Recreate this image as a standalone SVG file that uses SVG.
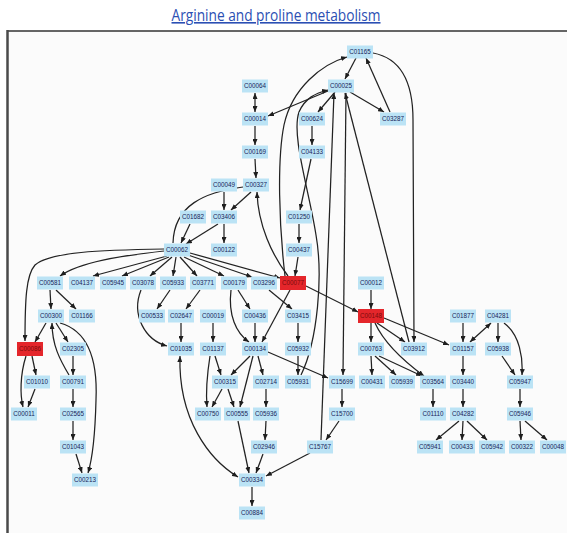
<svg xmlns="http://www.w3.org/2000/svg" width="567" height="533" viewBox="0 0 567 533">
  <style>
    .title { font-family: "Open Sans", "Liberation Sans", sans-serif; font-size: 16px; fill: #2b4fb3; text-decoration: underline; }
    .n rect { fill: #bbe3f5; }
    .r rect { fill: #e4262b; }
    .n text, .r text { font-family: "Liberation Sans", Arial, sans-serif; font-size: 6.3px; text-anchor: middle; }
    .n text { fill: #18255a; }
    .r text { fill: #7a0c0c; }
    #edges path { fill: none; stroke: #222; stroke-width: 1.25; marker-end: url(#ah); }
    #edges path.both { marker-start: url(#ah); }
    #edges path.plain { marker-end: none; }
  </style>
  <defs>
    <marker id="ah" viewBox="0 0 6 5" refX="6" refY="2.5" markerWidth="6" markerHeight="5" markerUnits="userSpaceOnUse" orient="auto-start-reverse">
      <path d="M0,0 L6,2.5 L0,5 z" fill="#1e1e1e"/>
    </marker>
  </defs>

  <rect width="567" height="533" fill="#ffffff"/>
  <text class="title" x="276" y="21" text-anchor="middle" textLength="209" lengthAdjust="spacingAndGlyphs">Arginine and proline metabolism</text>

  <!-- panel frame -->
  <rect x="7" y="31" width="560" height="502" fill="#fbfbfb"/>
  <line x1="7" y1="31" x2="567" y2="31" stroke="#333" stroke-width="1.5"/>
  <line x1="7.5" y1="30" x2="7.5" y2="533" stroke="#4a4a4a" stroke-width="2.5"/>

  <g id="edges">
    <!-- top: glutamate / ornithine cycle -->
    <path d="M356,58 L345,79"/>
    <path d="M390,112 L366,58"/>
    <path d="M350,92 L384,112"/>
    <path d="M335,92 L318,112"/>
    <path d="M328,91 L268,116"/>
    <path class="both" d="M255,93 L255,112"/>
    <path d="M255,126 L255,145"/>
    <path d="M255,159 L256,178"/>
    <path d="M312,126 L312,145"/>
    <path d="M311,159 L300,210"/>
    <path d="M299,224 L299,243"/>
    <path d="M298,257 L295,276"/>
    <path d="M224,192 L224,210"/>
    <path d="M251,192 L231,210"/>
    <path d="M224,224 L224,243"/>
    <path d="M218,224 L186,244"/>
    <path d="M190,224 L181,243"/>
    <path class="plain" d="M243,187 C205,192 174,205 173,243"/>
    <path d="M288,276 C272,255 258,225 257,192"/>
    <path d="M285,276 C279,225 277,160 284,125 C292,88 322,64 347,57"/>
    <path d="M301,375 C318,340 323,275 316,235 C309,190 291,135 299,112 C305,98 316,93 328,90"/>
    <path d="M321,440 L334,93"/>
    <path d="M346,93 L343,375"/>
    <path d="M409,342 L345,93"/>
    <path d="M373,53 C400,58 413,80 413,120 L414,342"/>

    <!-- arginine fan-out -->
    <path d="M164,251 C120,256 80,262 60,276"/>
    <path d="M164,249 C100,250 50,252 35,265 C26,275 25,300 25,341"/>
    <path d="M167,256 L93,276"/>
    <path d="M169,257 L122,276"/>
    <path d="M172,257 L150,276"/>
    <path d="M176,257 L173,276"/>
    <path d="M180,257 L197,276"/>
    <path d="M184,257 L224,276"/>
    <path d="M188,255 L252,277"/>
    <path d="M190,253 L280,278"/>

    <path d="M50,290 L51,309"/>
    <path d="M56,290 L76,309"/>
    <path d="M170,290 L157,309"/>
    <path d="M200,290 L186,309"/>
    <path d="M141,290 C131,315 145,340 167,346"/>
    <path d="M238,290 L250,309"/>
    <path d="M231,290 C228,315 236,333 249,342"/>
    <path d="M290,290 L262,342"/>
    <path d="M269,290 L292,309"/>
    <path d="M371,290 L371,309"/>
    <path d="M306,286 L358,312"/>

    <!-- creatine branch -->
    <path d="M46,323 L35,342"/>
    <path d="M56,323 L68,342"/>
    <path d="M69,375 C60,360 52,345 52,323"/>
    <path d="M60,323 C85,330 98,355 96,400 C95,440 92,460 88,473"/>
    <path d="M32,356 L36,375"/>
    <path d="M26,356 C20,375 20,395 23,407"/>
    <path d="M73,356 L73,375"/>
    <path d="M35,389 L28,407"/>
    <path d="M73,389 L73,407"/>
    <path d="M73,421 L73,440"/>
    <path d="M76,454 L82,473"/>

    <!-- polyamines -->
    <path d="M181,323 L181,342"/>
    <path d="M213,323 L213,342"/>
    <path d="M255,323 L255,342"/>
    <path d="M298,323 L298,342"/>
    <path d="M215,356 L221,375"/>
    <path d="M210,356 C207,375 206,395 207,407"/>
    <path d="M250,356 L231,375"/>
    <path d="M253,356 L240,407"/>
    <path d="M258,356 L263,375"/>
    <path d="M268,352 L328,378"/>
    <path d="M298,356 L298,375"/>
    <path class="both" d="M180,356 C178,420 210,460 238,477"/>
    <path d="M222,389 L212,407"/>
    <path d="M228,389 L234,407"/>
    <path d="M266,389 L266,407"/>
    <path d="M342,389 L342,407"/>
    <path d="M266,421 L265,440"/>
    <path d="M339,421 L326,440"/>
    <path d="M238,421 L249,473"/>
    <path d="M263,454 L256,473"/>
    <path d="M310,453 L266,476"/>
    <path d="M252,487 L252,506"/>

    <!-- proline / hydroxyproline -->
    <path d="M371,323 L371,342"/>
    <path d="M377,323 L405,342"/>
    <path d="M384,318 L449,345"/>
    <path d="M375,323 C385,345 405,362 424,376"/>
    <path d="M463,323 L463,342"/>
    <path class="both" d="M491,323 L470,342"/>
    <path d="M498,323 L498,342"/>
    <path d="M504,323 C520,335 523,358 522,375"/>
    <path d="M371,356 L372,375"/>
    <path d="M375,356 L396,375"/>
    <path d="M379,356 L422,376"/>
    <path d="M502,356 L515,375"/>
    <path d="M463,356 L463,375"/>
    <path d="M433,389 L433,407"/>
    <path d="M463,389 L463,407"/>
    <path d="M520,389 L520,407"/>
    <path d="M459,421 L436,440"/>
    <path d="M463,421 L462,440"/>
    <path d="M467,421 L487,440"/>
    <path d="M520,421 L521,440"/>
    <path d="M525,421 L547,440"/>
  </g>

  <!-- compound nodes -->
  <g id="n-C01165" class="n" transform="translate(360,52)"><rect x="-13" y="-6.5" width="26" height="13"/><text y="2.2">C01165</text></g>
  <g id="n-C00025" class="n" transform="translate(341,86)"><rect x="-13" y="-6.5" width="26" height="13"/><text y="2.2">C00025</text></g>
  <g id="n-C00064" class="n" transform="translate(255,86)"><rect x="-13" y="-6.5" width="26" height="13"/><text y="2.2">C00064</text></g>
  <g id="n-C00014" class="n" transform="translate(255,119)"><rect x="-13" y="-6.5" width="26" height="13"/><text y="2.2">C00014</text></g>
  <g id="n-C00624" class="n" transform="translate(312,119)"><rect x="-13" y="-6.5" width="26" height="13"/><text y="2.2">C00624</text></g>
  <g id="n-C03287" class="n" transform="translate(393,119)"><rect x="-13" y="-6.5" width="26" height="13"/><text y="2.2">C03287</text></g>
  <g id="n-C00169" class="n" transform="translate(255,152)"><rect x="-13" y="-6.5" width="26" height="13"/><text y="2.2">C00169</text></g>
  <g id="n-C04133" class="n" transform="translate(312,152)"><rect x="-13" y="-6.5" width="26" height="13"/><text y="2.2">C04133</text></g>
  <g id="n-C00049" class="n" transform="translate(224,185)"><rect x="-13" y="-6.5" width="26" height="13"/><text y="2.2">C00049</text></g>
  <g id="n-C00327" class="n" transform="translate(256,185)"><rect x="-13" y="-6.5" width="26" height="13"/><text y="2.2">C00327</text></g>
  <g id="n-C01682" class="n" transform="translate(193,217)"><rect x="-13" y="-6.5" width="26" height="13"/><text y="2.2">C01682</text></g>
  <g id="n-C03406" class="n" transform="translate(224,217)"><rect x="-13" y="-6.5" width="26" height="13"/><text y="2.2">C03406</text></g>
  <g id="n-C01250" class="n" transform="translate(299,217)"><rect x="-13" y="-6.5" width="26" height="13"/><text y="2.2">C01250</text></g>
  <g id="n-C00062" class="n" transform="translate(177,250)"><rect x="-13" y="-6.5" width="26" height="13"/><text y="2.2">C00062</text></g>
  <g id="n-C00122" class="n" transform="translate(224,250)"><rect x="-13" y="-6.5" width="26" height="13"/><text y="2.2">C00122</text></g>
  <g id="n-C00437" class="n" transform="translate(299,250)"><rect x="-13" y="-6.5" width="26" height="13"/><text y="2.2">C00437</text></g>

  <g id="n-C00581" class="n" transform="translate(50,283)"><rect x="-13" y="-6.5" width="26" height="13"/><text y="2.2">C00581</text></g>
  <g id="n-C04137" class="n" transform="translate(82,283)"><rect x="-13" y="-6.5" width="26" height="13"/><text y="2.2">C04137</text></g>
  <g id="n-C05945" class="n" transform="translate(113,283)"><rect x="-13" y="-6.5" width="26" height="13"/><text y="2.2">C05945</text></g>
  <g id="n-C03078" class="n" transform="translate(143,283)"><rect x="-13" y="-6.5" width="26" height="13"/><text y="2.2">C03078</text></g>
  <g id="n-C05933" class="n" transform="translate(173,283)"><rect x="-13" y="-6.5" width="26" height="13"/><text y="2.2">C05933</text></g>
  <g id="n-C03771" class="n" transform="translate(203,283)"><rect x="-13" y="-6.5" width="26" height="13"/><text y="2.2">C03771</text></g>
  <g id="n-C00179" class="n" transform="translate(234,283)"><rect x="-13" y="-6.5" width="26" height="13"/><text y="2.2">C00179</text></g>
  <g id="n-C03296" class="n" transform="translate(264,283)"><rect x="-13" y="-6.5" width="26" height="13"/><text y="2.2">C03296</text></g>
  <g id="n-C00077" class="r" transform="translate(293,283)"><rect x="-13" y="-7" width="26" height="14"/><text y="2.2">C00077</text></g>
  <g id="n-C00012" class="n" transform="translate(371,283)"><rect x="-13" y="-6.5" width="26" height="13"/><text y="2.2">C00012</text></g>

  <g id="n-C00300" class="n" transform="translate(51,316)"><rect x="-13" y="-6.5" width="26" height="13"/><text y="2.2">C00300</text></g>
  <g id="n-C01166" class="n" transform="translate(82,316)"><rect x="-13" y="-6.5" width="26" height="13"/><text y="2.2">C01166</text></g>
  <g id="n-C00533" class="n" transform="translate(152,316)"><rect x="-13" y="-6.5" width="26" height="13"/><text y="2.2">C00533</text></g>
  <g id="n-C02647" class="n" transform="translate(181,316)"><rect x="-13" y="-6.5" width="26" height="13"/><text y="2.2">C02647</text></g>
  <g id="n-C00019" class="n" transform="translate(213,316)"><rect x="-13" y="-6.5" width="26" height="13"/><text y="2.2">C00019</text></g>
  <g id="n-C00436" class="n" transform="translate(255,316)"><rect x="-13" y="-6.5" width="26" height="13"/><text y="2.2">C00436</text></g>
  <g id="n-C03415" class="n" transform="translate(298,316)"><rect x="-13" y="-6.5" width="26" height="13"/><text y="2.2">C03415</text></g>
  <g id="n-C00148" class="r" transform="translate(371,316)"><rect x="-13" y="-7" width="26" height="14"/><text y="2.2">C00148</text></g>
  <g id="n-C01877" class="n" transform="translate(463,316)"><rect x="-13" y="-6.5" width="26" height="13"/><text y="2.2">C01877</text></g>
  <g id="n-C04281" class="n" transform="translate(498,316)"><rect x="-13" y="-6.5" width="26" height="13"/><text y="2.2">C04281</text></g>

  <g id="n-C00086" class="r" transform="translate(30,349)"><rect x="-13" y="-7" width="26" height="14"/><text y="2.2">C00086</text></g>
  <g id="n-C02305" class="n" transform="translate(73,349)"><rect x="-13" y="-6.5" width="26" height="13"/><text y="2.2">C02305</text></g>
  <g id="n-C01035" class="n" transform="translate(181,349)"><rect x="-13" y="-6.5" width="26" height="13"/><text y="2.2">C01035</text></g>
  <g id="n-C01137" class="n" transform="translate(213,349)"><rect x="-13" y="-6.5" width="26" height="13"/><text y="2.2">C01137</text></g>
  <g id="n-C00134" class="n" transform="translate(255,349)"><rect x="-13" y="-6.5" width="26" height="13"/><text y="2.2">C00134</text></g>
  <g id="n-C05932" class="n" transform="translate(298,349)"><rect x="-13" y="-6.5" width="26" height="13"/><text y="2.2">C05932</text></g>
  <g id="n-C00763" class="n" transform="translate(371,349)"><rect x="-13" y="-6.5" width="26" height="13"/><text y="2.2">C00763</text></g>
  <g id="n-C03912" class="n" transform="translate(414,349)"><rect x="-13" y="-6.5" width="26" height="13"/><text y="2.2">C03912</text></g>
  <g id="n-C01157" class="n" transform="translate(463,349)"><rect x="-13" y="-6.5" width="26" height="13"/><text y="2.2">C01157</text></g>
  <g id="n-C05938" class="n" transform="translate(498,349)"><rect x="-13" y="-6.5" width="26" height="13"/><text y="2.2">C05938</text></g>

  <g id="n-C01010" class="n" transform="translate(37,382)"><rect x="-13" y="-6.5" width="26" height="13"/><text y="2.2">C01010</text></g>
  <g id="n-C00791" class="n" transform="translate(73,382)"><rect x="-13" y="-6.5" width="26" height="13"/><text y="2.2">C00791</text></g>
  <g id="n-C00315" class="n" transform="translate(225,382)"><rect x="-13" y="-6.5" width="26" height="13"/><text y="2.2">C00315</text></g>
  <g id="n-C02714" class="n" transform="translate(266,382)"><rect x="-13" y="-6.5" width="26" height="13"/><text y="2.2">C02714</text></g>
  <g id="n-C05931" class="n" transform="translate(298,382)"><rect x="-13" y="-6.5" width="26" height="13"/><text y="2.2">C05931</text></g>
  <g id="n-C15699" class="n" transform="translate(342,382)"><rect x="-13" y="-6.5" width="26" height="13"/><text y="2.2">C15699</text></g>
  <g id="n-C00431" class="n" transform="translate(372,382)"><rect x="-13" y="-6.5" width="26" height="13"/><text y="2.2">C00431</text></g>
  <g id="n-C05939" class="n" transform="translate(402,382)"><rect x="-13" y="-6.5" width="26" height="13"/><text y="2.2">C05939</text></g>
  <g id="n-C03564" class="n" transform="translate(433,382)"><rect x="-13" y="-6.5" width="26" height="13"/><text y="2.2">C03564</text></g>
  <g id="n-C03440" class="n" transform="translate(463,382)"><rect x="-13" y="-6.5" width="26" height="13"/><text y="2.2">C03440</text></g>
  <g id="n-C05947" class="n" transform="translate(520,382)"><rect x="-13" y="-6.5" width="26" height="13"/><text y="2.2">C05947</text></g>

  <g id="n-C00011" class="n" transform="translate(24,414)"><rect x="-13" y="-6.5" width="26" height="13"/><text y="2.2">C00011</text></g>
  <g id="n-C02565" class="n" transform="translate(73,414)"><rect x="-13" y="-6.5" width="26" height="13"/><text y="2.2">C02565</text></g>
  <g id="n-C00750" class="n" transform="translate(208,414)"><rect x="-13" y="-6.5" width="26" height="13"/><text y="2.2">C00750</text></g>
  <g id="n-C00555" class="n" transform="translate(237,414)"><rect x="-13" y="-6.5" width="26" height="13"/><text y="2.2">C00555</text></g>
  <g id="n-C05936" class="n" transform="translate(266,414)"><rect x="-13" y="-6.5" width="26" height="13"/><text y="2.2">C05936</text></g>
  <g id="n-C15700" class="n" transform="translate(342,414)"><rect x="-13" y="-6.5" width="26" height="13"/><text y="2.2">C15700</text></g>
  <g id="n-C01110" class="n" transform="translate(433,414)"><rect x="-13" y="-6.5" width="26" height="13"/><text y="2.2">C01110</text></g>
  <g id="n-C04282" class="n" transform="translate(463,414)"><rect x="-13" y="-6.5" width="26" height="13"/><text y="2.2">C04282</text></g>
  <g id="n-C05946" class="n" transform="translate(520,414)"><rect x="-13" y="-6.5" width="26" height="13"/><text y="2.2">C05946</text></g>

  <g id="n-C01043" class="n" transform="translate(73,447)"><rect x="-13" y="-6.5" width="26" height="13"/><text y="2.2">C01043</text></g>
  <g id="n-C02946" class="n" transform="translate(264,447)"><rect x="-13" y="-6.5" width="26" height="13"/><text y="2.2">C02946</text></g>
  <g id="n-C15767" class="n" transform="translate(320,447)"><rect x="-13" y="-6.5" width="26" height="13"/><text y="2.2">C15767</text></g>
  <g id="n-C05941" class="n" transform="translate(430,447)"><rect x="-13" y="-6.5" width="26" height="13"/><text y="2.2">C05941</text></g>
  <g id="n-C00433" class="n" transform="translate(462,447)"><rect x="-13" y="-6.5" width="26" height="13"/><text y="2.2">C00433</text></g>
  <g id="n-C05942" class="n" transform="translate(492,447)"><rect x="-13" y="-6.5" width="26" height="13"/><text y="2.2">C05942</text></g>
  <g id="n-C00322" class="n" transform="translate(522,447)"><rect x="-13" y="-6.5" width="26" height="13"/><text y="2.2">C00322</text></g>
  <g id="n-C00048" class="n" transform="translate(553,447)"><rect x="-13" y="-6.5" width="26" height="13"/><text y="2.2">C00048</text></g>

  <g id="n-C00213" class="n" transform="translate(85,480)"><rect x="-13" y="-6.5" width="26" height="13"/><text y="2.2">C00213</text></g>
  <g id="n-C00334" class="n" transform="translate(252,480)"><rect x="-13" y="-6.5" width="26" height="13"/><text y="2.2">C00334</text></g>
  <g id="n-C00884" class="n" transform="translate(252,513)"><rect x="-13" y="-6.5" width="26" height="13"/><text y="2.2">C00884</text></g>
</svg>
